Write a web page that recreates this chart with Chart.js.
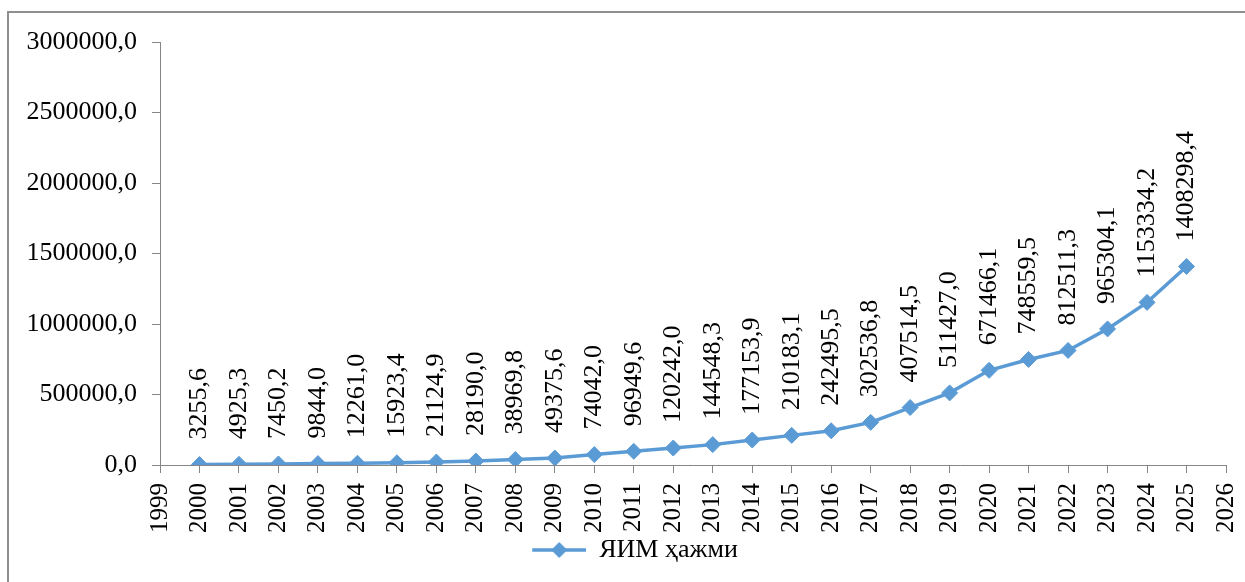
<!DOCTYPE html>
<html lang="uz">
<head>
<meta charset="UTF-8">
<title>ЯИМ ҳажми</title>
<script src="https://cdn.jsdelivr.net/npm/chart.js"></script>
<style>
  html, body { margin: 0; padding: 0; background: #fff; overflow: hidden; }
  .frame {
    position: absolute; left: 7px; top: 11px; width: 1260px; height: 600px;
    border-left: 2px solid #8e8e8e; border-top: 2px solid #8e8e8e;
  }
  .wrap { position: absolute; left: 0; top: 0; width: 1245px; height: 582px; }
</style>
</head>
<body>
<div class="frame"></div>
<div class="wrap"><canvas id="gdpChart"></canvas></div>

<script>
// ЯИМ ҳажми по годам
const years = [2000, 2001, 2002, 2003, 2004, 2005, 2006, 2007, 2008, 2009, 2010, 2011, 2012,
               2013, 2014, 2015, 2016, 2017, 2018, 2019, 2020, 2021, 2022, 2023, 2024, 2025];
const gdp = [3255.6, 4925.3, 7450.2, 9844.0, 12261.0, 15923.4, 21124.9, 28190.0, 38969.8,
             49375.6, 74042.0, 96949.6, 120242.0, 144548.3, 177153.9, 210183.1, 242495.5,
             302536.8, 407514.5, 511427.0, 671466.1, 748559.5, 812511.3, 965304.1,
             1153334.2, 1408298.4];
const seriesName = 'ЯИМ ҳажми';

const blue = '#5B9BD5';
const axisGray = '#868686';
const serif = '"Liberation Serif", "Times New Roman", serif';

const fmt = v => v.toFixed(1).replace('.', ',');

// значок легенды: линия с ромбом (слева пустое поле, чтобы сдвинуть легенду вправо)
const iconGap = 44;
const legendIcon = document.createElement('canvas');
legendIcon.width = iconGap + 54;
legendIcon.height = 20;
(function () {
  const c = legendIcon.getContext('2d');
  c.strokeStyle = blue;
  c.lineWidth = 3.5;
  c.beginPath();
  c.moveTo(iconGap, 10);
  c.lineTo(iconGap + 54, 10);
  c.stroke();
  c.fillStyle = blue;
  const cx = iconGap + 27;
  c.beginPath();
  c.moveTo(cx, 2); c.lineTo(cx + 8, 10); c.lineTo(cx, 18); c.lineTo(cx - 8, 10);
  c.closePath();
  c.fill();
})();

// подписи значений над точками, повернутые вертикально
const valueLabels = {
  id: 'valueLabels',
  afterDatasetsDraw(chart) {
    const ctx = chart.ctx;
    const meta = chart.getDatasetMeta(0);
    ctx.save();
    ctx.font = '26px ' + serif;
    ctx.fillStyle = '#000';
    ctx.textAlign = 'left';
    ctx.textBaseline = 'middle';
    meta.data.forEach((pt, i) => {
      ctx.save();
      ctx.translate(pt.x, pt.y - 25);
      ctx.rotate(-Math.PI / 2);
      ctx.fillText(fmt(gdp[i]), 0, 0);
      ctx.restore();
    });
    ctx.restore();
  }
};

new Chart(document.getElementById('gdpChart'), {
  type: 'line',
  data: {
    datasets: [{
      label: seriesName,
      data: years.map((y, i) => ({ x: y, y: gdp[i] })),
      borderColor: blue,
      backgroundColor: blue,
      borderWidth: 3.5,
      pointStyle: 'rectRot',
      pointRadius: 8,
      pointBorderWidth: 1,
      pointBackgroundColor: blue,
      pointBorderColor: blue,
      tension: 0
    }]
  },
  options: {
    responsive: true,
    maintainAspectRatio: false,
    animation: false,
    layout: { padding: { top: 42, right: 19, bottom: 9, left: 0 } },
    plugins: {
      tooltip: { enabled: false },
      legend: {
        position: 'bottom',
        labels: {
          usePointStyle: true,
          pointStyleWidth: iconGap + 54,
          padding: 2,
          color: '#000',
          font: { family: serif, size: 26 },
          generateLabels: () => [{
            text: seriesName,
            pointStyle: legendIcon,
            fillStyle: blue,
            strokeStyle: blue,
            lineWidth: 0,
            datasetIndex: 0,
            fontColor: '#000'
          }]
        }
      }
    },
    scales: {
      x: {
        type: 'linear',
        min: 1999,
        max: 2026,
        border: { color: axisGray, width: 1 },
        grid: { drawOnChartArea: false, color: axisGray, tickLength: 8 },
        ticks: {
          stepSize: 1,
          minRotation: 90,
          maxRotation: 90,
          padding: 10,
          color: '#000',
          font: { family: serif, size: 25 },
          callback: v => String(v)
        },
        afterFit(scale) {
          scale.height = 70;
          scale.paddingLeft = 0;
          scale.paddingRight = 0;
        }
      },
      y: {
        min: 0,
        max: 3000000,
        border: { color: axisGray, width: 1 },
        grid: { drawOnChartArea: false, color: axisGray, tickLength: 8 },
        ticks: {
          stepSize: 500000,
          padding: 15,
          color: '#000',
          font: { family: serif, size: 26 },
          callback: v => fmt(v)
        },
        afterFit(scale) { scale.width = 160; }
      }
    }
  },
  plugins: [valueLabels]
});
</script>
</body>
</html>
